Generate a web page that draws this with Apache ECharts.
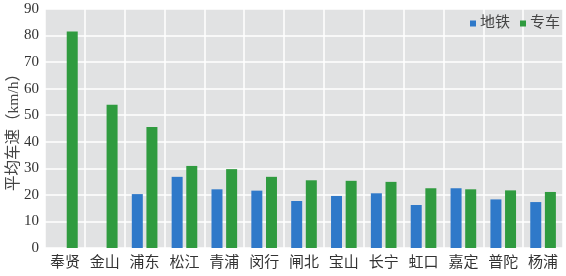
<!DOCTYPE html>
<html>
<head>
<meta charset="utf-8">
<script src="https://cdn.jsdelivr.net/npm/echarts@6/dist/echarts.min.js"></script>
<style>
  html, body { margin: 0; padding: 0; background: #fff; }
  #chart { width: 566px; height: 276px; }
</style>
</head>
<body>
<div id="chart"></div>
<script>
const districts = ['奉贤', '金山', '浦东', '松江', '青浦', '闵行', '闸北', '宝山', '长宁', '虹口', '嘉定', '普陀', '杨浦'];
const metroSpeed = [null, null, 20.3, 26.8, 22.1, 21.6, 17.7, 19.6, 20.6, 16.2, 22.5, 18.3, 17.3];
const carSpeed = [81.5, 53.9, 45.6, 30.9, 29.7, 26.8, 25.5, 25.3, 24.9, 22.5, 22.1, 21.7, 21.1];
const yTicks = { min: 0, max: 90, interval: 10 };

const textFont = "'Liberation Serif', 'Noto Sans CJK SC', serif";
const myChart = echarts.init(document.getElementById('chart'));

const option = {
  animation: false,
  textStyle: { fontFamily: textFont },
  grid: {
    left: 45,
    right: 3,
    top: 9,
    bottom: 28,
    outerBoundsMode: 'none',
    containLabel: false,
    show: true,
    backgroundColor: '#e1e2e3',
    borderWidth: 0,
  },
  legend: {
    right: 1,
    top: 11,
    icon: 'rect',
    itemWidth: 6,
    itemHeight: 6,
    itemGap: 10,
    textStyle: { fontSize: 15, color: '#444', padding: [0, 0, 0, -1] },
    data: ['地铁', '专车'],
  },
  xAxis: {
    type: 'category',
    data: districts,
    axisLine: { show: false },
    axisTick: { show: false },
    axisLabel: { fontSize: 15, color: '#333', margin: 8, interval: 0 },
    splitLine: { show: true, lineStyle: { color: '#ffffff', width: 1.5 } },
  },
  yAxis: {
    type: 'value',
    min: yTicks.min,
    max: yTicks.max,
    interval: yTicks.interval,
    name: '平均车速（km/h）',
    nameLocation: 'middle',
    nameGap: 23,
    nameMoveOverlap: false,
    nameTextStyle: { fontSize: 15.5, color: '#444' },
    axisLine: { show: false },
    axisTick: { show: false },
    axisLabel: { fontSize: 15, color: '#333', margin: 6 },
    splitLine: { lineStyle: { color: '#ffffff', width: 1.5 } },
  },
  series: [
    {
      name: '地铁',
      type: 'bar',
      data: metroSpeed,
      barWidth: 11,
      barGap: '33%',
      itemStyle: { color: '#2f79c9' },
    },
    {
      name: '专车',
      type: 'bar',
      data: carSpeed,
      barWidth: 11,
      barGap: '33%',
      itemStyle: { color: '#2f9b3f' },
    },
  ],
};

myChart.setOption(option);
</script>
</body>
</html>
